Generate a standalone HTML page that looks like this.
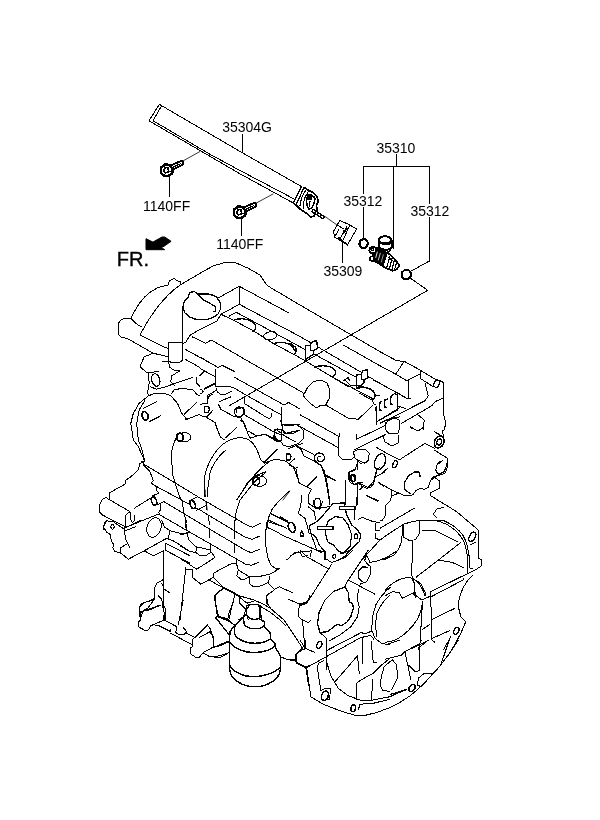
<!DOCTYPE html>
<html><head><meta charset="utf-8">
<style>
html,body{margin:0;padding:0;background:#fff;}
body{width:600px;height:820px;overflow:hidden;position:relative;font-family:"Liberation Sans",sans-serif;}
svg{position:absolute;left:0;top:0;filter:grayscale(1);}
.l{fill:none;stroke:#000;stroke-width:1;stroke-linejoin:round;stroke-linecap:round;shape-rendering:crispEdges;}
.t{fill:none;stroke:#000;stroke-width:0.8;}
.w{fill:#fff;stroke:#000;stroke-width:1;stroke-linejoin:round;}
.k{fill:#000;stroke:#000;stroke-width:1;stroke-linejoin:round;}
text{font-family:"Liberation Sans",sans-serif;fill:#000;}
</style></head>
<body>
<svg width="600" height="820" viewBox="0 0 600 820">
<!-- LABELS -->
<g id="labels" font-size="14">
<text x="222.2" y="131.8">35304G</text>
<text x="376.4" y="152.5">35310</text>
<text x="343.4" y="205.6">35312</text>
<text x="410.4" y="216">35312</text>
<text x="323.4" y="275.6">35309</text>
<text x="143.0" y="210.8">1140FF</text>
<text x="216.2" y="249.4">1140FF</text>
<text x="116.8" y="265.7" font-size="20" stroke="#000" stroke-width="0.35">FR.</text>
</g>
<polygon class="k" points="146,238.7 152.9,242.1 162,237 164.7,237 171.1,241.3 164,246.3 161.3,247.4 164.7,249.7 146,249.7" stroke-width="0.5"/>
<!-- LEADERS -->
<g id="leaders" class="l">
<path d="M242.5 134V151.7"/>
<path d="M363.4 166.4H429.4M396.4 154V166.4M363.4 166.4V194M363.4 207V237.6M393.4 166.4V249M429.4 166.4V204M429.4 217V261L411.3 271"/>
<path d="M342.8 242.5V262.5"/>
<path d="M410.2 278L427.7 290.3L229.2 405.8"/>
<path d="M169.7 175V196.5M241.5 218V235.5"/>
<path d="M182 161.5L200 151.5M255.5 203.5L273 194" class="t"/>
<path d="M325 216.5L337 225" class="t"/>
</g>
<!-- FUELRAIL -->
<g id="rail" class="l">
<path d="M149.300 120.300L159.300 104.300L161.700 105.700L229 145L240 151.500L301.500 186.500M149.300 120.300L149.700 121.700L151.700 122.300L210 156.300L240 173.800L292.700 202.700L296 205M153 120.700L210 154.300L240 170.500L294.700 199.300M161.700 105.700L153 120.700"/>
<path d="M301.5 186.5L293.5 202.500M304 187.5L296 205" stroke-width="1.2"/>
<!-- bracket -->
<path d="M304 187.5L308 190L311.5 191.5L317 196.5L318.5 201L316.5 205L317 210L314 216L311 217L308 214.5L300 209L296 205" stroke-width="1.6"/>
<path d="M306 190C303 194 300.5 200 300 206M308.5 191.5C305 196 303 202 303.5 208" stroke-width="1.1"/>
<path d="M308 195C306 200 306 206 309 209C312 209 314 205 315 199C314 196 311 194 308 195Z" stroke-width="1.5"/>
<path d="M307.5 195.5L311 196L311.5 199L308 199Z" class="k"/>
<path d="M310 201L309.5 206M313 197L316 199" stroke-width="1.3"/>
<!-- small bolt -->
<g stroke-width="1.3" fill="#fff"><ellipse cx="314.3" cy="211.6" rx="1.5" ry="2.4" transform="rotate(-55 314.3 211.6)"/><ellipse cx="317" cy="213.3" rx="1.4" ry="2.3" transform="rotate(-55 317 213.3)"/><ellipse cx="319.6" cy="215" rx="1.4" ry="2.2" transform="rotate(-55 319.6 215)"/><ellipse cx="322.2" cy="216.7" rx="1.3" ry="2.1" transform="rotate(-55 322.2 216.7)"/></g>
</g>
<!-- BOLTS -->
<g id="bolt1" class="l">
<path d="M170 168.2L181.2 163.2" stroke-width="6.2" stroke="#000"/>
<path d="M171 167.8L180.8 163.4" stroke-width="2.4" stroke="#fff"/>
<path d="M172 167.6L180.4 163.8" stroke-width="1.2" stroke="#000" stroke-dasharray="1.6 1.2"/>
<path d="M161 167.5L165.5 164.3L169.5 165.2L172.5 168.8L172.3 173.2L168.6 175.8L164.5 176L161 173.2Z" fill="#fff" stroke-width="2.5"/>
<path d="M164.4 168.2L167 167.6L168.6 169.8L168 172.4L165.6 172.8L164 171Z" stroke-width="1.5"/>
<path d="M169.5 165.2L168.8 167.6M172.4 171L169.2 171.2" stroke-width="1.1"/>
</g>
<g id="bolt2" class="l" transform="translate(73,42)">
<path d="M170 168.2L181.2 163.2" stroke-width="6.2" stroke="#000"/>
<path d="M171 167.8L180.8 163.4" stroke-width="2.4" stroke="#fff"/>
<path d="M172 167.6L180.4 163.8" stroke-width="1.2" stroke="#000" stroke-dasharray="1.6 1.2"/>
<path d="M161 167.5L165.5 164.3L169.5 165.2L172.5 168.8L172.3 173.2L168.6 175.8L164.5 176L161 173.2Z" fill="#fff" stroke-width="2.5"/>
<path d="M164.4 168.2L167 167.6L168.6 169.8L168 172.4L165.6 172.8L164 171Z" stroke-width="1.5"/>
<path d="M169.5 165.2L168.8 167.6M172.4 171L169.2 171.2" stroke-width="1.1"/>
</g>
<!-- CLIP -->
<g id="clip" class="l">
<path d="M340 220.5L337 225L333.5 231.5L334.5 237L347.5 245L356.5 229L350 225L340 220.5Z"/>
<path d="M340 220.5L350 225M350 225L343 240M346.5 227L340 239M337 225L344 229M334.5 237L339 229.5"/>
<path d="M344 231L348 228.5M343.5 233.5L346.5 229" stroke-width="1.6"/>
<path d="M339 238L343 241.5L347 244.5" stroke-width="1.6"/>
</g>
<!-- ORINGS -->
<g id="orings" class="l">
<ellipse cx="363.6" cy="243.6" rx="4.1" ry="4.4" stroke-width="2.3" transform="rotate(20 363.6 243.6)"/>
<path d="M402.3 272L404.5 270.2L408.5 270L410.8 272.5L410.6 276.5L408 279L404 279.2L402 277Z" stroke-width="1.9"/>
</g>
<!-- INJECTOR -->
<g id="inj" class="l">
<!-- body -->
<path d="M374.500 248.300L377.800 247.900L384.500 250.800L390.300 255L395.300 260L398.700 264.200L398.700 266.700L397 269.200L392.800 270.800L386.200 268.300L378.700 263.300L372.800 260.800Z" fill="#fff" stroke-width="1.7"/>
<path d="M375 249L378 248.500L384.500 251.500L387.500 254L383.500 265.500L378.700 262.800L373.500 260.300Z" fill="#000" stroke="none"/>
<path d="M377.300 252L375.800 257.500" stroke="#fff" stroke-width="0.9"/>
<path d="M380.300 253.300L378.300 260" stroke="#fff" stroke-width="0.8"/>
<path d="M383.300 254.800L381.300 262" stroke="#fff" stroke-width="0.6"/>
<path d="M389.800 256.300L387 266.800M392 258.300L389.500 268.300M394.300 260.500L392 269.500M396.500 262.800L394.500 269.800" stroke-width="1.2"/>
<path d="M388.500 257.500L394 262" stroke-width="1"/>
<!-- neck -->
<path d="M381.600 248.500L386.200 253.300L390.800 250" fill="#fff" stroke-width="1.6"/>
<!-- cap -->
<path d="M379 240V246.500C380 250 390 251 391.600 247.500V240" fill="#fff" stroke-width="1.9"/>
<ellipse cx="385" cy="239.800" rx="6.200" ry="3.600" fill="#fff" stroke-width="1.9"/>
<path d="M381 243.300C384 244.600 388 244.500 390.500 243.300" stroke-width="1.7"/>
<!-- left end -->
<circle cx="372.800" cy="250.200" r="3.400" fill="#fff" stroke-width="2"/>
<circle cx="372.600" cy="249.800" r="1.100" stroke-width="1.100"/>
<path d="M370.300 257L373 256L374 260L371.800 261.700L370 260Z" fill="#fff" stroke-width="1.500"/>
</g>
<!-- ENGINE -->
<g id="engine" class="l">
<!-- tile 100,250 -->
<path d="M300 305L271.7 288.3L266.7 285L260 275L248.3 268.3L235 262.5H225L213.3 265.8L200 273.3L180 285L180.8 281.7L176.7 280.8L174.2 278.3L169.2 280.8L168.3 285L158.3 287.5C150 291 141 299 134.2 311.7L130.8 318.3H125C121 319 118.3 322 118.3 325V333.3C118.8 336 121 338 126.7 338.3L130 340L153.3 353.3L168.3 356.7"/>
<path d="M130.8 318.3C134 322 137 325 141.7 326.7"/>
<path d="M180 285C166 295 152 312 140 335L150 340L163.3 346.7L168.3 348.3"/>
<path d="M168.3 360V342.5H182.9V360M182.9 342.5V308"/>
<path d="M194 291.300L190 292.700L188 297.300L184 302L182.900 308L184.700 312.700L190 317.300C194 319 197 319.500 199.300 319.700C204 320 207 319.500 210 318.700C213 317.500 216 316 218 314L220.700 308.700L220.400 302.700L216.700 297.300C214 295.500 211 294.500 208.700 294H198Z" stroke-width="1.3"/>
<path d="M183.500 343.300L186 342L190 335.300L196.700 331.300L216.700 321.300L220.700 314.700M192 336.700L205.300 343.300"/>
<!-- tile 200,250 -->
<path d="M217.5 298.3L239.3 286.3L289 313M239.3 286.3V304.3L221 314.3M239.3 304.3L300 336.5"/>
<path d="M229 316.3L236.3 312.3L295 344"/>
<path d="M221 314.3L235 321L253.7 331L273.7 343.7L295 355"/>
<path d="M233.7 320.3C240 317.5 249 318.5 254.3 323.7C256.5 326.5 256 329.5 253 331.7" stroke-width="1.4"/>
<ellipse cx="270.3" cy="335.7" rx="6.7" ry="4" transform="rotate(-12 270.3 335.7)"/>
<path d="M273.7 343.7C280 341 288 342.5 292.3 346.3L295 351" stroke-width="1.4"/>
<path d="M198 294.700L203.300 300L210 303.300L215.300 306.700V311.300H214" stroke-width="1.2"/>
<!-- tile 290,290 -->
<path d="M300 305L380 351.7L396.7 360.8L404.2 361.3L420 370L435 379.2"/>
<path d="M300 336.5L380 383.3L406.7 398.3H410.5"/>
<path d="M343.3 345L380 365.8L395.8 374.2L406.7 380.8L420 374.2M404.2 361.3L395.8 374.2M408.3 380.8V398.3M420 370V378.3L433.3 386.7"/>
<path d="M295 344L305.8 350M315 354.5L363 381"/>
<path d="M295 355L306.7 361.7L331.7 376.7L348.3 386.7"/>
<g id="brk"><path d="M310.8 345.200L305.800 345.800V359.200L313.300 354.200L314 350.500" stroke-width="1.3" fill="#fff"/><path d="M310.800 344.200L312.500 341.700L316.700 340.500L317.500 348.300L313.300 350.800L310.800 350Z" stroke-width="1.3" fill="#fff"/></g>
<g transform="translate(50.5,29.2)"><path d="M310.8 345.200L305.800 345.800V359.200L313.300 354.200L314 350.500" stroke-width="1.3" fill="#fff"/><path d="M310.800 344.200L312.500 341.700L316.700 340.500L317.500 348.300L313.300 350.800L310.800 350Z" stroke-width="1.3" fill="#fff"/></g>
<path d="M290 343.3L295 346.7L296.7 350.8L294.2 354.2" stroke-width="1.4"/>
<path d="M315 367.5C319 365 329 365 334.2 369.2C336.5 372 335.5 375 332.5 377.5" stroke-width="1.4"/>
<path d="M343.3 380.8L348.3 377.5L349.5 381"/>
<!-- tile 380,330 -->
<ellipse cx="436.7" cy="383.7" rx="2.6" ry="3.8" transform="rotate(25 436.7 383.7)" stroke-width="1.3"/>
<path d="M435 379.2L442.5 381.7L443.3 383V413.3L445.8 423.3L444.2 430"/>
<path d="M425 383.3L428.3 395.8L425 400.8L396.7 415L380 423.3"/>
<path d="M442.5 398.3L435 401.7L431.7 405.8L401.7 423.3"/>
<path d="M394.500 393.500L397.500 395V410L376.500 422M397.500 406L405.500 408.500M376 395L380 395.500M376 405L376.500 425M373 405L360 418"/>
<path d="M381.500 410.300L379.500 410L380 402L381.500 401.500M386.500 407.300L384.500 407L385 399.500L388 399M392.500 404.300L390.500 404L391 396.500L394 394" stroke-width="1.3"/>
<path d="M418.3 415L424.2 420L423.3 430M410.8 426.7L415 430"/>
<!-- tile 100,340 -->

<path d="M168.3 360.8C172 364 180 363.5 182.8 360"/>
<path d="M185 349.2L212 364M185 359.2L200 367.5"/>
<path d="M153.3 353.3L144.2 356.7L140 366.7L146.7 372.5L158.3 371.7M162.5 361.7L168.3 361.5"/>
<path d="M148.3 373.3L149.2 383.3L147.5 393.3L149.2 395.8"/>
<ellipse cx="155.8" cy="380" rx="4" ry="6.4" transform="rotate(-15 155.8 380)" stroke-width="1.2"/>
<path d="M150 386.7L156.7 389.2L163.3 387.5L192.5 377.5"/>
<path d="M168.3 361.7L170 367.5L175 370.8H180L171.7 375.8L170.8 381.7L175 385.8"/>
<path d="M171.7 393.3L174.2 390L181.7 388.3L193.3 390L196.7 394.2L200 396"/>
<path d="M196.7 377.5V383.3L200 386.7"/>
<path d="M148.3 395.8L155 393.3L163.3 393L170.8 395.8L177.5 403.3L181.7 413.3L186.7 419.2"/>
<path d="M147.5 396.7L139.2 403.3L133.3 413.3L130.8 423.3L133.3 440M145 400L139.2 410L136.7 423.3L138.3 440"/>
<ellipse cx="145" cy="415.8" rx="3" ry="4.3" transform="rotate(-20 145 415.8)" stroke-width="1.7"/>
<path d="M143.3 408.3L156.7 401.7M149.2 421.7L160.8 415.8"/>
<path d="M184.2 414.2L196.7 402.5M185 420L200 414.2"/>
<!-- tile 200,340 -->
<path d="M205.300 343.300L211.300 340L300 391"/>
<path d="M200 357L218 367.5L222.5 365.5L234.5 371.5M215.5 369V387"/>
<path d="M200 368.5L204.5 371L215 376.5M204.5 371L200 375.5"/>
<path d="M234 377L284 405L288.5 402.5L300 409"/>
<path d="M204 389L215 383.5" stroke-width="1.4"/>
<path d="M200 389C204 390 204 393 200 394"/>
<path d="M215.5 387L229 386.5L234 388L246 395L280.5 414.5"/>
<path d="M216 388L217.5 392L220 394H226L232 391M216 390.5L207.5 395.5V400"/>
<path d="M225 399L230.500 397M244 396V400"/>
<path d="M244.5 396V403.500L267.500 418H270L271.800 416V413"/>
<path d="M281 407V422L282 424L285 425L292 424L300 424.500"/>
<path d="M240 407.500L243.500 408L244.500 410L244 414L240 417.500M244 414.500L274 432L280 434.500"/>
<path d="M240 420L243 422L249 436L251 439M248 431L257 436L263 434.500L266 435L273 439"/>
<path d="M277.500 428.500L275 431L273 439M282 424L283 431L284 433L292 434L300 430"/>
<!-- tile 200,390 -->
<circle cx="239.2" cy="411.7" r="4.8" stroke-width="1.2"/>
<path d="M236 409L241 408.500M237 413L236.500 409"/>
<path d="M204.200 406.500H208.500L209.500 409.500L208 412.500H204.800Z" stroke-width="1.3"/>
<path d="M200 415.800L206.700 416.700L212.500 410.800"/>
<path d="M200 404.200L207.500 403.300L208.300 396.700L212.500 394.200"/>
<path d="M219.200 401.700L230.800 396.700"/>
<path d="M218.300 404.200L220.800 409.200L234.200 416.700L240.800 417.500L245 425L248.300 435L250 438.300"/>
<path d="M206.700 417.500L215 422.500L217.500 430L220.800 437.500L225 440M225 438.300L236.700 427.500"/>
<path d="M250 438.300L257.500 435.800L265.800 434.200L273.300 438.300L280 441.700"/>
<path d="M226.700 441.700C232 438 243 436 249.200 440C255 444 257 450 258.300 453.300L260.800 460L264.200 462.500"/>
<path d="M226.700 441.700C216 448 208 462 205 475L204.200 483.300L205 497"/>
<path d="M225.800 450C216 458 211 468 210 473.300L207.500 490V497"/>
<path d="M264.200 462.500L277.500 449.200"/>
<path d="M264.200 463.300L275 459.200L285 460.800L293.300 466.700L298.300 480L300 484"/>
<ellipse cx="256.2" cy="481.3" rx="3.4" ry="4.2" stroke-width="1.8"/>
<path d="M258 476C263 475.500 267 478 266.500 482C266 485.500 261 487 257 486.500"/>
<path d="M253.300 476.700L265.800 471.700"/>
<path d="M243.300 490C246 484 249 480 253.300 478.300"/>
<path d="M274.200 429.200H281.700V440H274.200Z"/>
<path d="M280.700 420L281.300 424L286 426L296.700 424.700L302.700 429.300L304 433.300L303.300 438.700L298.700 443.300L288.700 446.700L283.300 445.300L280.700 441.300L276 438.700L274 433.300L276 429.300"/><path d="M281.500 424L283.300 430.700L286 433.300L300 430M277 430L284.700 436L296 442M270 437.500L278 442M288 448.700L302.700 443.300"/>
<path d="M286.200 454H290L291 457L289.800 460H286.600Z" stroke-width="1.3"/>
<path d="M290 462.700L294.700 458.700M270 456L277.300 449.300M295.200 468.200L298 467"/>
<!-- tile 300,380 -->
<path d="M303.300 395.800L307.500 387.500L313.300 381.700L320 380L326.700 382.500L330 390L329.200 398.300L325.800 405H320.800L316.700 408L310 403.300Z"/>
<path d="M300 390.800L305 394.200"/>
<path d="M325.800 405L348.300 418.300L358.300 419.200L373.300 405"/>
<path d="M300 414.700L339.300 436.700M296.700 424.700L338 447.500"/>
<path d="M340 433.300L338.700 437.300V456L342 459.300L350 460L354.200 457.500"/>
<path d="M356.700 434.200V439.200L385 425.600M354.200 450L385.500 434.500"/><path d="M385 425.600L388 420L393 417L399 420L400 427L398 433L389 434L386 430Z"/>
<path d="M383 436L385 442L392 446L398 443L399 435"/>
<path d="M385 423.300L390.800 419.200L400 416.700"/>
<path d="M375.800 407.500L376.700 424.200M376.700 421.700L400 407.500"/>
<path d="M337.500 380L373.300 399"/>
<path d="M357.500 388.500C362 386 369 387.500 373 391C376 394 376 397.500 372.500 400" stroke-width="1.5"/><path d="M360 393.500L372 400L374 404L376 405"/>
<path d="M345 380L350 385L357.500 385.800L363.300 386.700"/>
<path d="M373.300 380L400 394.200"/>
<path d="M353.300 451.700L358.300 449.200L365.800 450L369.200 453.300L368.300 460L364.200 463.300L355 458.300Z"/>
<path d="M357.500 462.100V469.600M355 469.200L348.300 472.500V479.200L350.800 482.900L355 485L357.500 483.800V496.700L357 505"/><path d="M359.200 482.100H362.900M359.200 483.800L363.300 486.700L366.700 488.300L370.800 487.100L373.300 484.200L374.600 480V477.100L376.700 470L378.300 468.800M363.300 486.700L360 489.600M366.300 495.400L377.900 501.300M378.300 482.100L383.300 486.300M375.400 477.100L385 471.700"/>
<ellipse cx="352.900" cy="478.300" rx="2.100" ry="3.300" transform="rotate(-20 352.9 478.3)" stroke-width="1.5"/>
<ellipse cx="380" cy="461.7" rx="5.2" ry="8.3" transform="rotate(22 380 461.7)" stroke-width="1.3"/>
<path d="M376.700 447.500L386.700 453.300L400 460"/>
<ellipse cx="395" cy="464.2" rx="2" ry="3.8" transform="rotate(22 395 464.2)" stroke-width="1.3"/>


<path d="M296 446L300.700 448.700L302.700 453.300L304 456L314.700 461.300L320.700 465.300L324 470.700L326.700 481.300L328.700 494.700L329.500 500" stroke-width="1.2"/><path d="M325.300 474.700L336 480.700"/>
<path d="M298.700 446.700L314 454.700"/>
<path d="M316 461.500C313 459 314 454 318.500 453C323 452.500 325.500 456 324 459.500C322.500 462 319 462 317.500 460C316.500 458 318 456 320 456.500" stroke-width="1.2"/>
<!-- tile 390,380 -->
<path d="M444.200 430L442.500 430L443.300 436.700"/>

<path d="M418.300 415L424.200 420L423.300 427.500L418.300 430.800L410 427.500"/>
<ellipse cx="439.2" cy="442" rx="4.6" ry="6.2" transform="rotate(25 439.2 442)" stroke-width="1.5"/>
<ellipse cx="439.2" cy="442" rx="2.2" ry="3.2" transform="rotate(25 439.2 442)" stroke-width="1.3"/>
<path d="M434.200 431.700L441.700 435.800"/>
<path d="M399.200 460L425 443.300L434.200 448.300M434.200 450L447.500 458.300V466.700L445 473.300L435 476.700L431.700 480"/>
<path d="M443.300 461C438 460 435.500 466 436 470C436.500 474 439 475.500 442 474.500"/>
<path d="M406.700 480C408 475 413 471.500 418.300 471.700L420.800 476.700"/>
<!-- tile 90,430 -->
<path d="M133.300 440L138.300 446.700L145 461.700M138.300 440L141.700 448.300L145 461.700"/>
<path d="M145 461.700L140 463.300L138.300 470L130 477.500L125.800 480L125 484.200L110 492.500L109.200 499.200"/>
<path d="M130 511.700L105.800 497.500L102.500 499.200L99.200 505.800L100 512.500L102.500 515L125 526.700"/>
<path d="M130 511.700L125.800 515L125 521.700L125.800 526.700M130 511.700L130.800 520L132.500 522.500L135 520L134.200 515.800"/>
<path d="M144 464.300L200 498L247.300 525.300L252.700 527.300L260.700 523.300"/>
<path d="M141 461.500L144 461L143.300 465L150 471.700L152.700 479L153.300 481L151.300 483L156 486.300L156.700 491L158.700 492.300"/>
<path d="M151.300 483.700L189.500 504.300M196 507.800L200 510L245.300 537.300L252 539.300L260 536"/>
<ellipse cx="154" cy="501" rx="2.4" ry="4.2" transform="rotate(-20 154 501)" stroke-width="1.6"/>
<path d="M134.200 508.300L151.300 497.700M158.700 493L152 496.300"/>
<path d="M157.300 505L164 501.700L200 523.300L246 550.700L251.300 552.700L259.300 549.300"/>
<path d="M160 503L160.700 509.700L158.700 512.300L160 515L200 538L245.300 564L251.300 565.300L259.300 562"/>
<path d="M158.300 514.200L123.300 528.300"/>

<path d="M180 432.500C175 438 172 448 171.300 455L172.700 475L176 485.700L179.300 496.300L182.700 501.700L183.300 511L185.300 517.700L186.700 530"/>
<ellipse cx="180" cy="437.2" rx="3.4" ry="4" stroke-width="1.8"/>
<path d="M182 433C187 432 191 434 191 437.500C190.500 441 186 442 182 441.500"/>
<path d="M104.200 523.300L106.700 520M103.300 530L104.200 523.300"/>
<ellipse cx="112.5" cy="526.7" rx="1.6" ry="2.4"/>
<!-- tile 190,430 -->
<path d="M268.300 462.500C260 468 250 480 246.700 485L236.700 500"/>
<path d="M265.800 472.500C258 478 253.300 483.300 253.300 483.300L240 500L235.800 513.300L234.200 526.700V534"/>

<path d="M197.300 497L189.300 501"/>
<ellipse cx="192.700" cy="504.600" rx="2.400" ry="4.200" transform="rotate(-20 192.7 504.6)" stroke-width="1.6"/>
<path d="M196 510.300L206 505.700M206 501.700L206.700 509.700"/>

<path d="M205.300 490V496M206 502L207.300 510" class="t"/>
<path d="M290 490.800C283 496 276 504 271.700 510L268.300 518.300L266.700 530"/>
<path d="M270 513.300L290 523.300M268.300 520L286.700 528.300"/>
<path d="M205 497L205.800 495"/>
<!-- tile 280,460 throttle flange -->
<path d="M309.200 525.800L316.700 521.700L323.300 515L333.300 503.300L344.200 503L346.700 515L351.700 525L357.500 530L360.800 535L359.200 541.700L353.300 547.500L344.200 556.700L338.300 560" stroke-width="1.2"/>
<path d="M309.200 525.800L310.800 533.300L315.800 536.700L319.200 545L325 551.700V560" stroke-width="1.2"/>
<path d="M328.300 520.800L335 516.700L342.500 517.500L348.300 525L351.700 535L350 546.700L343.300 553.300L338.300 550.800L333.300 545L327.500 541.700L325.800 535V528.300Z" stroke-width="1.2"/>
<rect x="339.2" y="506.3" width="15.8" height="3.4" stroke-width="1.4" fill="#fff"/>
<rect x="317.5" y="526.3" width="15.5" height="3" stroke-width="1.4" fill="#fff"/>
<ellipse cx="355.8" cy="536.3" rx="1.7" ry="2.5" stroke-width="1.2"/>
<ellipse cx="334.2" cy="556.3" rx="1.4" ry="2" stroke-width="1.2"/>
<path d="M345.800 480.800V505M357.500 484.200L356.700 505.800M354.200 510V520M345 510L346.700 515"/>
<path d="M321.700 466.700L325 476.700L327.500 490L330 505M325 475.800L335.800 480.800"/>
<ellipse cx="317.5" cy="503" rx="3.2" ry="4.8" stroke-width="1.3"/>
<path d="M313.300 500L314.200 506.700L320 509.200L322.500 501.700"/>
<path d="M306.700 486.700L316.700 476.700"/>
<path d="M289.200 465L295.800 468.300L299.200 483.300L306.700 486.700L311.700 489.200L308.300 495V503.300L315.800 508.300L330 506.700"/>
<path d="M301.700 495L300.800 505L298.300 513.300L305 518.300L307.500 526.700L309.200 533.300"/>
<path d="M308.300 506.700L314.200 511.700L315.800 520"/>
<ellipse cx="291.7" cy="527.5" rx="3.2" ry="5.2" transform="rotate(-20 291.7 527.5)" stroke-width="1.6"/>
<path d="M300 536L301.700 530.500L304 536Z" stroke-width="1.2"/>
<path d="M280 516.700L287.500 520.800M280 534.200L321.700 552.500"/>
<path d="M280 500L290 490.800L283 500" class="t"/>
<path d="M310.800 533.300L316.700 550L324 551.700"/>
<path d="M286.700 560L295 552.500L311.700 550.800L310 556.700M300 551.700L302.500 556.700L308 555"/>
<path d="M357.500 460L360 463.300L366.700 462.500L368.300 460"/>
<path d="M358.300 460L355 470L349.200 472.500L350 480L354.200 484.200L357.500 483.300"/>
<ellipse cx="353.3" cy="478" rx="2.3" ry="3.4" stroke-width="1.5"/>
<path d="M357.500 482.500L368.300 487.500L373.300 481.700L375.800 475L376.700 469.200L380 467.500"/>
<path d="M361.700 486.700L360 490M365.800 495L378.300 500.800"/>
<path d="M358.300 519.200L362.500 517.500L373.300 521.700L380 522.500M375 523.300V530H380M375.800 533.300V538.300L380 540"/>
<path d="M361.700 560L380 540M365 560L366.700 555"/>
<!-- tile 380,460 -->
<path d="M442.500 460.800L436.700 465L435.800 470.800L439.200 474.200L444.200 471.700L446.700 465L447.500 460"/>
<path d="M439.200 475L433.300 476.700L430 481.700L428.300 487.500L424.200 489.200L420 488.300L415.800 490.800L412.500 495L405 495.800L391.700 490L380 483.300"/>
<path d="M420 476.700L419.200 472.500L415 471.700L408.300 475.800L404.200 483.300L405 490L410 493.300" stroke-width="1.2"/>
<path d="M435 477.500L439.200 480.800V488.300L430 493.300L430.800 495.800L456.700 511.700L478.300 530V558.500L481.300 559.300V566L476.800 569L467.800 573.500L431 591.500"/>
<ellipse cx="472.300" cy="536.800" rx="2.800" ry="5" transform="rotate(30 472.3 536.8)" stroke-width="1.4"/>
<path d="M391.700 490L390.800 500L385.800 505L385 516.700L381.700 520.800H380M391.700 495.800L398.300 493.300"/>
<path d="M380 528.300L414.200 508.300"/>
<path d="M380 540C388 534 396 529 404 524C410 522 415 521 419.800 520.300H434C439 521 444 523 447.500 524.800C451 527 454 529 456.500 531.500C459 534 461.500 537 463.300 540.500C465 544 466.500 549 467 554L467.800 573.500"/>
<path d="M434 520.300L444.500 521C449 523 452 525 455 527C458 529.500 460.500 532 462.500 534.500C464.500 538 466 541 467 545L469.300 557L470 568.300H473"/>
<path d="M443.300 507.500L436.700 509.200L433.300 514.200L436.700 517.500"/>
<path d="M403.300 524.800L404 537.500L409.300 540.500L415.300 539.800L419 534.500L419.800 520.300"/>
<path d="M413 540.500L411.500 575L413.800 579.500L415.300 594.500"/>
<path d="M402.500 525.500L401.800 540.500L398.800 548.800L394.200 555L383.300 560"/>
<path d="M422 530L435.500 530.800L458 542M460.300 542.800L438.500 560L416 577.300M438.500 560L452 562.300L463.300 567.500"/>
<path d="M470 545L476 542"/>
<path d="M380 475L387.500 468.300"/>
<!-- tile 90,520 -->
<path d="M113.300 521.700L106.700 520.800L103.300 526.700L106.700 532.500L110 534.200L111.700 541.700L114.200 545L112.500 547.500L115 551.700L120 552.500L128.300 559.200L144.200 550.800L166.700 538.300"/>
<path d="M113.300 521.700L124.200 529.200L125.800 540L130 547.500"/>
<path d="M120 551.700L120.800 547.500L126.700 544.200"/>
<path d="M124.200 528.300L141.700 520M125 530.800L135.800 526.700"/>
<path d="M144.200 550.800L153.300 555.800L163.300 550.800"/>
<ellipse cx="154" cy="527.500" rx="7" ry="10" transform="rotate(18 154 527.5)"/>
<path d="M161.700 520L164.200 526.700L170 530.800L183.300 534.200L190 531.700M170 530.800L168.300 538.300"/>
<path d="M166.700 538.300L173.300 540.800L180 545L190 551.700"/>
<path d="M165.800 543.300L190 555.800M165 544.200V550L190 563.300"/>
<path d="M163.300 550.800V581.700L164.200 620"/>
<path d="M185.800 567.500L180 620"/>
<path d="M162.500 580L156.700 583.300L154.200 589.200L155 598.300L143.300 603.300L139.200 608.300L140 616.700"/>
<path d="M161.700 583.300L164.200 589.200L169.200 592.500"/>
<path d="M158.300 595.800L161.700 599.200L162.500 605L164.200 613.300L163.500 620"/>
<path d="M154.200 599.200L146.700 610L143.300 610.800L141 616.700M146.700 610L160 605"/>
<!-- tile 180,520 -->




<path d="M235.300 518.700L234.400 527.300M234.400 531.300V538.700M234.400 544.700V552.700M236 559.300L237.300 567.300M209.300 530V538M208.700 516.700L209.300 524.700M186.700 520L185 528.300"/>
<path d="M180 534.200L187.500 533.300L188.300 539.200L195.800 546.700L210.800 550"/>
<path d="M180 545.800L190 551.700L196.700 552.500"/>
<path d="M196.700 547.500L195.800 552.500L200 555.800L206.700 555L210.800 552.500V545"/>
<path d="M180 558.300L196.700 569.200L215 557.500L211.700 552.500"/>
<path d="M185 569L192.500 570V577.500L200.800 584.200L213.300 577.500V573.300L230 564.200L236.700 563.300"/>
<path d="M236.700 559.200V563.300L238.300 570L236.700 575.800L241.700 580L246.700 578.300L249.200 576.700"/>
<path d="M238.300 570L249.200 576.700L258.300 576.700L270 574.200L280 568.300"/>
<path d="M249.200 577.500L250 584.200L253.300 586.700L261.700 585.800L268.300 582.500L270 575.800"/>
<path d="M268.300 583.300L274.200 589.200L280 586.700M274.200 590L266.700 595V603.300L270 607"/>
<path d="M213.300 577.500L224 588L240 596L254 600L262 603.500L270 608L284 620L296 638L303 649"/>
<path d="M209 580L235 594.200L240 597.500L248 604L258 605L270 612L280 620L286 626"/>
<path d="M224.200 587.500L215.800 595L215 597.500L217.500 615.800L215.800 618.300M224.200 587.500L235 593.300L233.300 601.700L229.200 612.500L227.500 620M217.500 615.800L228.300 619.200"/>
<path d="M239.200 597.500L240 603.300L245.800 610L248.300 620M245.800 610L250 605L258.300 604.200L260.800 613.300L261.700 620M246.700 602.500L253.300 601.700"/>
<path d="M245.800 610L243.300 616.700L238.300 620"/>
<path d="M266.700 522.500L265 540L267.500 556.700L270.800 565L276.700 569.200L280 568.300"/>
<path d="M268.300 521.700L280 525.800M267.500 527.500L280 533.300"/>
<!-- tile 130,600 feet -->
<path d="M153.300 600L141.700 603.300L139.200 607.500L140.800 615L140 620.800L138.300 621.700V626.700L144.200 630H148.300L150.800 625.800L164.200 620L176.700 626.700"/>
<path d="M140.800 612.500L146.700 608.300L147.500 610.800L160.800 605"/>
<path d="M161.700 600L165 608.300V620"/>
<path d="M155 625.800H159.200L170.800 631.700V629.200M170.800 633.300L192.500 645"/>
<path d="M183.300 600L178.300 625"/>
<path d="M176.700 626.700L175.800 632.500L179.200 635L184.200 634.200L186.700 631.700L183.300 627.500M186.700 633.300L195 637.500"/>
<path d="M195 637.500L207.500 625L210.800 630L210 632.500L213.300 636.700V646.700"/>
<path d="M195 637.500L192.500 639.200V646.700L190 648.300V653.300L195.800 657.500H199.200L203.300 652.500L213.300 647.500L229.200 640.800"/>
<path d="M203.300 653.300L210 656.700L220 657.500L229.200 652.500"/>
<path d="M199.200 637.500L210 631.700"/>
<path d="M215 600L218.300 615.800L215.800 617.500L229.500 635M218.300 616.700L229.500 620.800"/>
<!-- oil filter -->
<g stroke-width="1.4">
<path d="M246.700 605.800V615M260 605.800V617.500M246.700 606C249 603.800 257 603.500 260 605.800M246.700 615C249 620 257 620.500 260 617.500"/>
<path d="M245.800 615L243.300 617.500L244.200 624.200C247 629.500 259 630.500 264.200 625.800V621.700L260 619.200"/>
<path d="M243.300 617.500L235 625L234.200 633.300C238 641 248 643.300 255 643.300C262 643.300 269 641 270.800 638.300L270 632.500L264.200 626.700"/>
<path d="M235 625L230 631.700L229.500 641.700C234 649 245 652.500 253.300 652.500C262 652.500 271 650 275 645.800V643.300L270.800 639.200"/>
<path d="M229.700 641.700V670C231 680 243 686.700 255 686.700C267 686.700 279 680 280.300 670V655.800L275 646.700"/>
<path d="M229.700 665C233 672 243 676.700 253.300 676.700C264 676.700 277 672 280.300 666.700"/>
</g>
<path d="M220 590L214.200 595.800L217.500 616.700L230 621.700L234 625M217.500 616.700L215.800 618.300L229.200 635"/>
<path d="M235 594.200L231.700 607.500L228.300 621.700M228.300 590L235 594.200L240 596.700L239.200 603.300L245.800 609.200"/>


<path d="M274.200 590L266.700 595.800L267.500 603.300L271.700 610"/>
<path d="M288.300 599.200L300 604.200L307.500 601.700L310 595"/>

<path d="M302.500 648.300L296.700 653.300V663.300L305 667.500L310 665M280.300 656.700L288.300 660L296.700 659.200"/>
<path d="M305.800 667.500L308.300 683.300L310 690"/>
<path d="M210 648.300L220 645.800L229.200 641.700M210 656.700L220 655.800L229.200 652.500"/>
<path d="M210 628.300L213.300 638.300V646.700"/>

<!-- tile 290,550 -->
<path d="M345 586.700L343.300 587.500L333.300 591.700L325 600L319.200 611.700L317.500 623.300L320 632.500L327.500 631.700L335 625.800L338.300 624.200L340.800 625.800L346.700 622.500L350.800 616.700L353.300 608.300L352.500 603.300L349.200 601.700L348.300 592.500Z" stroke-width="1.3"/>
<path d="M320.700 633.300L326 637.800V659.500L326.700 670"/>
<path d="M358.300 589.200L357.500 600L359.200 606.700L357.500 616.700L350.800 626.700L340 635L329.200 640.800"/>
<ellipse cx="319.2" cy="645" rx="2.3" ry="3.6" transform="rotate(30 319.2 645)" stroke-width="1.3"/>
<path d="M331.700 564.200L306.700 603.300L299.200 605.800L298.300 616.700L302.500 620L305 650"/>
<path d="M302.500 620L308.300 622.500L310.800 620"/>
<path d="M280 587L293 593"/>
<path d="M300 550L306.700 556.700L327.500 568.300M290 556L298.300 551.700"/>
<path d="M324.200 550L325 558.300L331.700 562.500L345 557.500L353.300 550"/>
<path d="M338.300 550L340.800 553.300L347.500 551.700L349 550"/>
<path d="M368.300 550L348.300 580L345 585.800"/>
<path d="M367.500 567.500L362.500 566.700L358.300 571.700V578.300L362.500 581.700" stroke-width="1.4"/>
<path d="M363.300 558.300L367.500 564.200L370.800 566.700L370 575L366.700 581.700L360 584.200"/>
<path d="M348.300 580L375 594.200"/>
<path d="M366.700 555L370 562.500L378.300 560.800L390 555.800"/>
<path d="M390 587.500C382 594 378 601 375.800 605L372.500 616.700L371.700 630L375 638.300L381.700 643.300L390 645"/>
<path d="M390 595C384 600 380 606 376.700 613.300L375.500 625L376.700 636.700"/>


<!-- tile 385,550 -->
<path d="M385 590.800C390 584 397 580 403.300 578.300C407 577.500 410 577.500 411.700 578.300C415 580 418.300 582.500 418.300 582.500L422.500 589.200L425 595.800"/>
<path d="M411.700 578.300C416 580 420.800 583.300 420.800 583.300L425 591.700L426 596"/>
<path d="M385 595.800L392.500 591.700L399.200 592.500L402.500 598.300L414.200 592.500L415 585.800L412.500 579"/>
<path d="M413.300 593.300L415.800 596.700" stroke-width="1.8"/>
<path d="M415 595L421.700 600L429.200 596.700"/>
<path d="M422.500 601.700C422 608 421 611 420 613.300C418 619 416 622 413.300 625C410 629 407 632 403.300 635C400 637.500 397 639.500 393.300 640.800L385 642.500"/>
<path d="M422.500 601.700L420.800 630L420 643.300L418.300 650M430.800 596.700L431.700 640L435 642.500M430 591.700V596.700"/>



<path d="M431 596.800L464 579.500L463.300 578"/>

<path d="M473 575C470 578 468 580 466.700 581.700C464 586 462 590 460.800 593.300C459 598 458.300 603 458.300 606.700L460.800 616.700L465.800 621.700L460.800 633.300L451.700 650"/>
<ellipse cx="456.3" cy="630.8" rx="2.3" ry="3.8" transform="rotate(30 456.3 630.8)" stroke-width="1.4"/>
<path d="M432.500 619.200L455 608.300M421.700 630L430 624.200M432.500 638.300L449.200 630.800M450.800 636.700L443.300 650M408.300 650L429.200 640"/>
<path d="M385 558.300L398.300 550"/>
<!-- tile 290,640 -->
<path d="M306.700 667.500L310.800 696.700L323.300 704.200L340 710.800L356.700 715.800H363.300L376.700 712.500L390 707.500"/>
<path d="M326.700 662L330.800 675.800L338.300 688.300L348.300 695.800L360 700H373.300L390 696.700"/>
<path d="M360 704.200L373.300 703.300L390 699.200M360 704.200L358.300 710"/>
<path d="M290 660H295.800M295.800 654.200V661.700L306.700 667.500M295.800 654.200L305 648.300L315 652.500M300 640L305 648.300V640"/>
<path d="M306.500 667.700L360.500 637.700L370.300 635.500L374 639.300M326.700 650.500L361.300 632.500L365 634L371.700 631"/>
<ellipse cx="325" cy="695.8" rx="3.4" ry="4.8" transform="rotate(25 325 695.8)" stroke-width="1.6"/>
<ellipse cx="328.500" cy="697.500" rx="1.2" ry="2.2" stroke-width="1"/>
<path d="M323.300 660.800L318.300 663.300L317.500 668.300L320.800 690.800L325.800 688.300H330L330.800 693.300"/>
<ellipse cx="353.3" cy="708.3" rx="2.3" ry="3.4" transform="rotate(15 353.3 708.3)" stroke-width="1.4"/>
<path d="M335 681.700L357.500 655.800L359.200 673.300"/>
<path d="M362 637.800V664M371 640.800L373.300 662.500L377 663"/>
<path d="M356.700 699.200V683.300L360.800 680L373.300 673.300L381.700 665L390 658.300"/>
<path d="M372.500 679.200L371.700 699.200"/>
<path d="M390 661.700L384.200 666.700L381.700 675L380 685L382.500 690L390 691.700"/>
<!-- tile 385,640 -->
<path d="M390 707.500C398 704 404 700 410 695.800C415 692 419 688 423.300 684.200L436.700 670L448.300 655L458.300 640"/>
<path d="M390 696.700L395 694.200L405.800 690M420.800 686.700L433.300 673.300L440.800 665L449.200 640"/>
<path d="M420.800 686.700L417.500 685L418.300 678.300L424.200 673.300L433.300 673.300"/>
<ellipse cx="412" cy="688" rx="2.6" ry="3.8" transform="rotate(40 412 688)" stroke-width="1.5"/>
<path d="M390 694.500L406.700 689.200"/>
<path d="M390 661.700L392.500 660L396.700 665L397.500 678.300L391.700 690"/>
<path d="M385 659.200L401.700 655L405 651.700L420 643.300L421.700 640"/>
<path d="M405 651.700L410.800 680"/>
<path d="M408.300 665L415 671.700L419.200 670.800L420 646.700L428.300 640"/>
<path d="M385 645L395 641.700L400 640"/>
</g>
<g class="l">
</g>
</svg>
</body></html>
